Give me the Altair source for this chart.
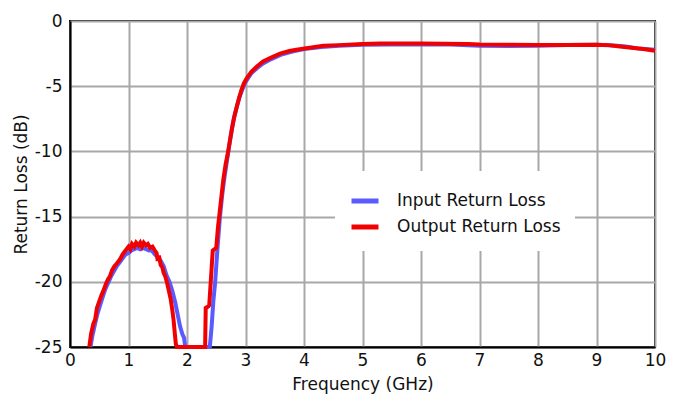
import altair as alt
import pandas as pd

in_freq = [0.35, 0.38, 0.42, 0.46, 0.50, 0.55, 0.60, 0.65, 0.70, 0.75, 0.80, 0.85, 0.90, 0.95,
           1.00, 1.05, 1.10, 1.15, 1.20, 1.25, 1.30, 1.35, 1.40, 1.45, 1.50, 1.55, 1.60, 1.65,
           1.70, 1.75, 1.80, 1.84, 1.88, 1.92, 1.95, 1.97, 2.39, 2.42, 2.45, 2.48, 2.52, 2.56,
           2.60, 2.64, 2.68, 2.72, 2.76, 2.80, 2.85, 2.90, 2.95, 3.00, 3.10, 3.20, 3.30, 3.45,
           3.60, 3.80, 4.00, 4.30, 4.60, 5.00, 5.50, 6.00, 6.50, 7.00, 7.50, 8.00, 8.50, 9.00,
           9.30, 9.50, 9.70, 10.0]
in_db = [-25, -24.2, -23.4, -22.6, -22.0, -21.3, -20.6, -20.1, -19.6, -19.2, -18.8, -18.5, -18.2, -17.9,
         -17.8, -17.6, -17.5, -17.4, -17.5, -17.4, -17.5, -17.6, -17.6, -17.9, -18.1, -18.4, -18.8, -19.5,
         -20.0, -20.7, -21.6, -22.5, -23.4, -24.0, -24.3, -25, -25, -23.5, -21.5, -20.1, -17.5, -15.2,
         -13.4, -12.0, -10.8, -9.6, -8.5, -7.5, -6.6, -5.8, -5.2, -4.7, -4.0, -3.6, -3.25, -2.9,
         -2.6, -2.35, -2.15, -2.0, -1.9, -1.82, -1.8, -1.8, -1.8, -1.9, -1.92, -1.9, -1.85, -1.83,
         -1.88, -1.95, -2.1, -2.2]

out_freq = [0.33, 0.36, 0.40, 0.43, 0.46, 0.50, 0.54, 0.57, 0.61, 0.65, 0.68, 0.72, 0.76, 0.80,
            0.85, 0.90, 0.95, 1.00, 1.03, 1.06, 1.10, 1.13, 1.17, 1.20, 1.23, 1.26, 1.30, 1.33,
            1.37, 1.41, 1.45, 1.48, 1.50, 1.52, 1.55, 1.58, 1.60, 1.63, 1.66, 1.69, 1.72, 1.75,
            1.77, 1.79, 1.81, 1.83, 2.31, 2.32, 2.36, 2.38, 2.44, 2.50, 2.53, 2.56, 2.59, 2.62,
            2.66, 2.70, 2.74, 2.77, 2.81, 2.85, 2.89, 2.93, 2.97, 3.02, 3.10, 3.19, 3.30, 3.42,
            3.59, 3.75, 3.87, 4.10, 4.33, 4.60, 5.00, 5.30, 5.70, 6.00, 6.40, 6.80, 7.00, 7.50,
            8.00, 8.50, 9.00, 9.20, 9.40, 9.60, 9.80, 10.0]
out_db = [-25, -24.0, -23.2, -22.9, -22.0, -21.5, -21.0, -20.7, -20.2, -19.8, -19.6, -19.1, -18.8, -18.6,
          -18.3, -17.9, -17.6, -17.3, -17.5, -17.1, -17.3, -17.0, -17.2, -17.0, -17.3, -17.0, -17.2, -17.1,
          -17.4, -17.3, -17.6, -17.8, -18.4, -18.0, -18.7, -18.9, -19.3, -19.6, -20.1, -20.7, -21.3, -22.2,
          -22.9, -23.9, -24.8, -25, -25, -22.0, -21.9, -21.8, -17.6, -17.4, -15.8, -14.6, -13.4, -12.2,
          -11.0, -10.1, -9.0, -8.2, -7.3, -6.6, -5.9, -5.3, -4.8, -4.4, -3.9, -3.5, -3.1, -2.85,
          -2.5, -2.3, -2.2, -2.05, -1.9, -1.85, -1.76, -1.72, -1.73, -1.72, -1.74, -1.77, -1.8, -1.82,
          -1.84, -1.84, -1.82, -1.85, -1.95, -2.05, -2.15, -2.28]

series_names = ["Input Return Loss", "Output Return Loss"]
series_colors = ["#5a5aff", "#f00000"]

rows = []
for i, (f, v) in enumerate(zip(in_freq, in_db)):
    rows.append({"freq": f, "db": v, "series": series_names[0], "order": i})
for i, (f, v) in enumerate(zip(out_freq, out_db)):
    rows.append({"freq": f, "db": v, "series": series_names[1], "order": i})
df = pd.DataFrame(rows)

FONT = "DejaVu Sans"

chart = alt.Chart(df).mark_line(strokeWidth=4).encode(
    x=alt.X("freq:Q", title="Frequency (GHz)",
            scale=alt.Scale(domain=[0, 10], nice=False),
            axis=alt.Axis(values=list(range(0, 11)), ticks=False, labelPadding=5,
                          labelFlush=False, titlePadding=8,
                          labelExpr="'' + datum.value")),
    y=alt.Y("db:Q", title="Return Loss (dB)",
            scale=alt.Scale(domain=[-25, 0], nice=False),
            axis=alt.Axis(values=[0, -5, -10, -15, -20, -25], ticks=False, labelPadding=8,
                          labelFlush=False, titlePadding=4,
                          labelExpr="'' + datum.value")),
    color=alt.Color("series:N", scale=alt.Scale(domain=series_names, range=series_colors),
                    legend=alt.Legend(title=None, orient="none", legendX=265, legendY=150,
                                      fillColor="white", padding=14, symbolType="stroke",
                                      symbolStrokeWidth=5, symbolSize=729, labelFontSize=17,
                                      labelOffset=16, rowPadding=0, labelFont=FONT,
                                      labelLimit=0, labelColor="#111")),
    order="order:Q",
).properties(
    width=585, height=326,
    autosize=alt.AutoSizeParams(type="none"),
    padding={"left": 70, "top": 21, "right": 21, "bottom": 54},
).configure_view(
    stroke="black", strokeWidth=2
).configure_axis(
    domainColor="black", domainWidth=2, gridColor="#a8a8a8", gridWidth=2,
    labelFont=FONT, titleFont=FONT, labelFontSize=17, titleFontSize=17,
    labelColor="#111", titleColor="#111", titleFontWeight="normal",
)

chart.save("out.html", embed_options={"renderer": "svg", "actions": False})
